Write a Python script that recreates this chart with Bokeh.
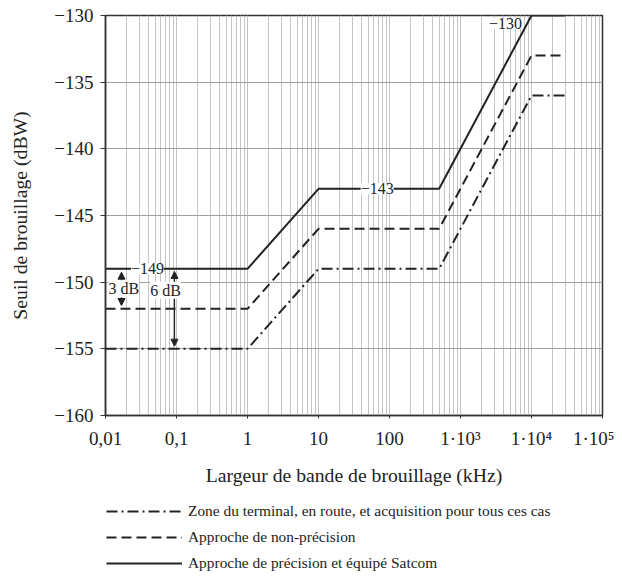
from bokeh.plotting import figure
from bokeh.layouts import column
from bokeh.models import (FixedTicker, CustomJSTickFormatter, Label, Arrow, NormalHead,
                          Legend, LegendItem, ColumnDataSource)
from bokeh.embed import file_html
from bokeh.resources import INLINE

# ---------------- data ----------------
bandwidth_khz = [0.01, 1, 10, 500, 1e4, 3e4]
precision_satcom = [-149, -149, -143, -143, -130, -130]
non_precision = [-152, -152, -146, -146, -133, -133]
terminal_enroute = [-155, -155, -149, -149, -136, -136]

series_labels = [
    "Zone du terminal, en route, et acquisition pour tous ces cas",
    "Approche de non-précision",
    "Approche de précision et équipé Satcom",
]

x_ticks = [0.01, 0.1, 1, 10, 100, 1e3, 1e4, 1e5]
x_tick_labels = ["0,01", "0,1", "1", "10", "100", "1·10³", "1·10⁴", "1·10⁵"]
y_ticks = [-160, -155, -150, -145, -140, -135, -130]

value_labels = ["−149", "−143", "−130"]
value_label_x = [0.039, 67, 4300]
value_label_y = [-149, -143, -130.6]

FONT = "Liberation Serif"
INK = "#222222"
W = 614

p = figure(width=W, height=492, x_axis_type="log",
           x_range=(0.01, 1e5), y_range=(-160, -130),
           output_backend="svg", toolbar_location=None,
           min_border_left=105, min_border_right=W - 602,
           min_border_top=15, min_border_bottom=77)

# minor ticks for log grid
minor = []
for d in [0.01, 0.1, 1, 10, 100, 1e3, 1e4]:
    for k in range(2, 10):
        minor.append(d * k)

p.xaxis.ticker = FixedTicker(ticks=x_ticks, minor_ticks=minor)
p.yaxis.ticker = FixedTicker(ticks=y_ticks)

p.xaxis.formatter = CustomJSTickFormatter(
    args=dict(xt=x_ticks, xl=x_tick_labels),
    code="""
    for (let i = 0; i < xt.length; i++) {
        if (Math.abs(Math.log10(xt[i]) - Math.log10(tick)) < 1e-6) return xl[i];
    }
    return '';
    """)
p.yaxis.formatter = CustomJSTickFormatter(
    code="return tick < 0 ? '\u2212' + Math.abs(tick) : String(tick);")

# grid
p.xgrid.grid_line_color = "#c4c4c4"
p.xgrid.grid_line_width = 1
p.xgrid.minor_grid_line_color = "#c4c4c4"
p.xgrid.minor_grid_line_width = 1
p.ygrid.grid_line_color = "#a0a0a0"
p.ygrid.grid_line_width = 1

# frame / axes
p.outline_line_color = "#333333"
p.outline_line_width = 1.5
p.outline_line_alpha = 1
for ax in (p.xaxis, p.yaxis):
    ax.axis_line_color = "#333333"
    ax.axis_line_width = 1.5
    ax.major_tick_line_color = "#333333"
    ax.minor_tick_line_color = None
    ax.major_label_text_font = FONT
    ax.major_label_text_font_size = "19px"
    ax.major_label_text_color = INK
    ax.axis_label_text_font = FONT
    ax.axis_label_text_font_size = "19.7px"
    ax.axis_label_text_font_style = "normal"
    ax.axis_label_text_color = INK

p.xaxis.major_tick_out = 3
p.xaxis.major_tick_in = 0
p.xaxis.major_label_standoff = 8
p.xaxis.axis_label = "Largeur de bande de brouillage (kHz)"
p.xaxis.axis_label_standoff = 12

p.yaxis.major_tick_out = 5
p.yaxis.major_tick_in = 0
p.yaxis.major_label_standoff = 7
p.yaxis.axis_label = "Seuil de brouillage (dBW)"
p.yaxis.axis_label_standoff = 20

# ---------------- lines ----------------
DASHES = ["11 4 2 4", "10 5", "solid"]
src = ColumnDataSource(dict(x=bandwidth_khz, a=terminal_enroute,
                            b=non_precision, c=precision_satcom))
for col, dash in zip(["a", "b", "c"], DASHES):
    p.line("x", col, source=src, line_color=INK, line_width=2, line_dash=dash)

# ---------------- arrows ----------------
def add_arrow(x, y0, y1):
    p.add_layout(Arrow(x_start=x, y_start=y0, x_end=x, y_end=y1,
                       line_color=INK, line_width=1.2,
                       end=NormalHead(size=7, fill_color=INK, line_color=INK)))

add_arrow(0.0168, -150.5, -149.25)
add_arrow(0.0168, -150.5, -151.75)
add_arrow(0.0937, -152, -149.2)
add_arrow(0.0937, -152, -154.8)

# ---------------- labels ----------------
def add_label(x, y, text, align="center"):
    p.add_layout(Label(x=x, y=y, text=text, text_align=align,
                       text_baseline="middle", text_font=FONT,
                       text_font_size="16px", text_color=INK,
                       background_fill_color="white", background_fill_alpha=1))

for lx, ly, lt in zip(value_label_x, value_label_y, value_labels):
    add_label(lx, ly, lt)
add_label(0.0181, -150.5, "3 dB")
add_label(0.070, -150.6, "6 dB")

# ---------------- legend figure (below the plot) ----------------
lg = figure(width=W, height=84, output_backend="svg", toolbar_location=None,
            min_border=0, x_range=(0, 1), y_range=(0, 1))
lg.axis.visible = False
lg.grid.visible = False
lg.outline_line_color = None
items = []
for lab, dash in zip(series_labels, DASHES):
    # off-range placeholder renderer, only used for the legend sample
    r = lg.line(x=[5, 6], y=[5, 6], line_color=INK, line_width=2, line_dash=dash)
    items.append(LegendItem(label=lab, renderers=[r]))
legend = Legend(items=items, location=(1, 3), orientation="vertical",
                glyph_width=76, glyph_height=20, label_height=20,
                label_standoff=6, spacing=6, padding=0, margin=0,
                border_line_color=None, background_fill_alpha=0,
                label_text_font=FONT, label_text_font_size="15.4px",
                label_text_color=INK)
lg.add_layout(legend)

open("out.html", "w").write(file_html(column(p, lg, spacing=0), INLINE))
